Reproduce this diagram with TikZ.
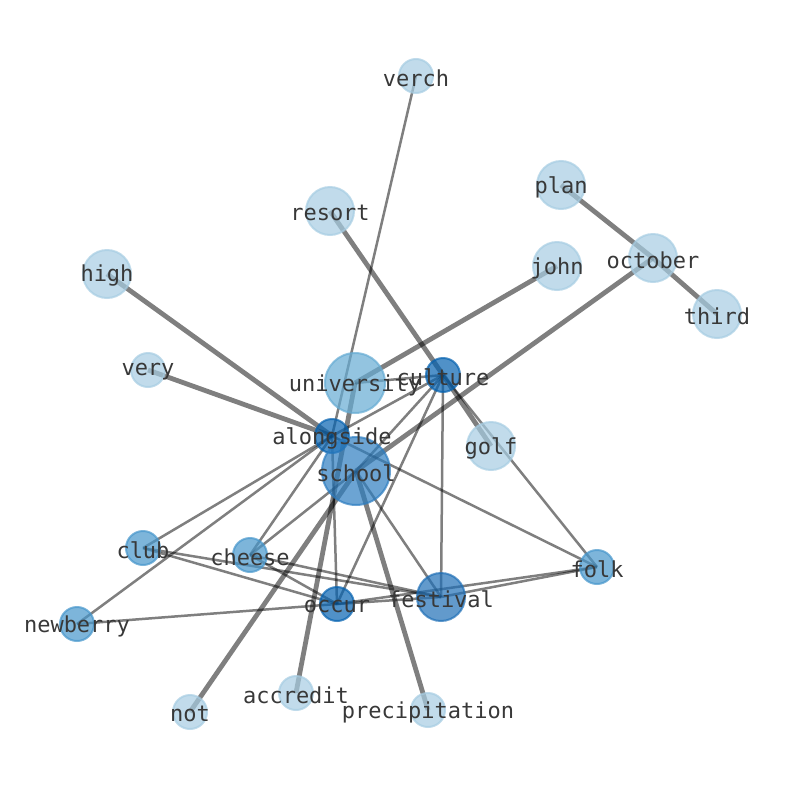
\documentclass[tikz,border=0pt]{standalone}
\usepackage{fontspec}
\setmonofont{DejaVu Sans Mono}
\usepackage{tikz}
\usetikzlibrary{backgrounds}
\definecolor{palenode}{RGB}{166,204,226}
\definecolor{uninode}{RGB}{101,171,211}
\definecolor{midnode}{RGB}{70,150,203}
\definecolor{bignode}{RGB}{45,125,192}
\definecolor{festnode}{RGB}{31,111,182}
\definecolor{deepnode}{RGB}{5,98,176}
\tikzset{
  word/.style={circle, inner sep=0pt, line width=2pt, fill opacity=0.7, draw opacity=0.7},
  pale/.style={word, fill=palenode, draw=palenode},
  uni/.style={word, fill=uninode, draw=uninode},
  mid/.style={word, fill=midnode, draw=midnode},
  big/.style={word, fill=bignode, draw=bignode},
  fest/.style={word, fill=festnode, draw=festnode},
  deep/.style={word, fill=deepnode, draw=deepnode},
  lbl/.style={font=\ttfamily\fontsize{22}{24}\selectfont, text=black!78, inner sep=0pt, yshift=-2pt},
  tie/.style={draw=black, draw opacity=0.5, line width=2.5pt},
  strong/.style={draw=black, draw opacity=0.5, line width=4.8pt}
}

\begin{document}
\begin{tikzpicture}[x=1pt, y=-1pt]
  \useasboundingbox (0,0) rectangle (794,790);

  % word circles
  \node[pale, minimum size=34pt] (verch) at (416,76) {};
  \node[pale, minimum size=48pt] (resort) at (330,211) {};
  \node[pale, minimum size=48pt] (plan) at (561,185) {};
  \node[pale, minimum size=48pt] (october) at (653,258) {};
  \node[pale, minimum size=48pt] (third) at (717,314) {};
  \node[pale, minimum size=48pt] (john) at (557,266) {};
  \node[pale, minimum size=48pt] (high) at (107,274) {};
  \node[pale, minimum size=34pt] (very) at (148,370) {};
  \node[uni, minimum size=60pt] (university) at (355,383) {};
  \node[deep, minimum size=34pt] (culture) at (443,375) {};
  \node[deep, minimum size=34pt] (alongside) at (332,436) {};
  \node[big, minimum size=68pt] (school) at (356,471) {};
  \node[pale, minimum size=48pt] (golf) at (491,446) {};
  \node[mid, minimum size=34pt] (club) at (143,548) {};
  \node[mid, minimum size=34pt] (cheese) at (250,555) {};
  \node[mid, minimum size=34pt] (folk) at (597,567) {};
  \node[deep, minimum size=34pt] (occur) at (337,604) {};
  \node[fest, minimum size=48pt] (festival) at (441,597) {};
  \node[mid, minimum size=34pt] (newberry) at (77,624) {};
  \node[pale, minimum size=34pt] (not) at (190,712) {};
  \node[pale, minimum size=34pt] (accredit) at (296,693) {};
  \node[pale, minimum size=34pt] (precipitation) at (428,710) {};

  % labels
  \foreach \w in {verch,resort,plan,october,third,john,high,very,university,culture,
                  alongside,school,golf,club,cheese,folk,occur,festival,newberry,
                  not,accredit,precipitation}
    \node[lbl] (\w-lbl) at (\w) {\w};

  % links
  \begin{scope}[on background layer]
    \draw[strong] (high.center) -- (alongside.center);
    \draw[strong] (very.center) -- (alongside.center);
    \draw[strong] (john.center) -- (university.center);
    \draw[strong] (october.center) -- (school.center);
    \draw[strong] (plan.center) -- (october.center);
    \draw[strong] (october.center) -- (third.center);
    \draw[strong] (resort.center) -- (culture.center);
    \draw[strong] (culture.center) -- (golf.center);
    \draw[strong] (not.center) -- (school.center);
    \draw[strong] (accredit.center) -- (university.center);
    \draw[strong] (precipitation.center) -- (school.center);

    \draw[tie] (verch.center) -- (alongside.center);
    \draw[tie] (culture.center) -- (alongside.center);
    \draw[tie] (culture.center) -- (university.center);
    \draw[tie] (culture.center) -- (school.center);
    \draw[tie] (culture.center) -- (occur.center);
    \draw[tie] (culture.center) -- (festival.center);
    \draw[tie] (culture.center) -- (folk.center);
    \draw[tie] (alongside.center) -- (club.center);
    \draw[tie] (alongside.center) -- (newberry.center);
    \draw[tie] (alongside.center) -- (cheese.center);
    \draw[tie] (alongside.center) -- (folk.center);
    \draw[tie] (alongside.center) -- (occur.center);
    \draw[tie] (school.center) -- (festival.center);
    \draw[tie] (cheese.center) -- (school.center);
    \draw[tie] (club.center) -- (festival.center);
    \draw[tie] (club.center) -- (occur.center);
    \draw[tie] (cheese.center) -- (festival.center);
    \draw[tie] (cheese.center) -- (occur.center);
    \draw[tie] (newberry.center) -- (occur.center);
    \draw[tie] (occur.center) -- (festival.center);
    \draw[tie] (occur.center) -- (folk.center);
    \draw[tie] (festival.center) -- (folk.center);
  \end{scope}
\end{tikzpicture}
\end{document}
